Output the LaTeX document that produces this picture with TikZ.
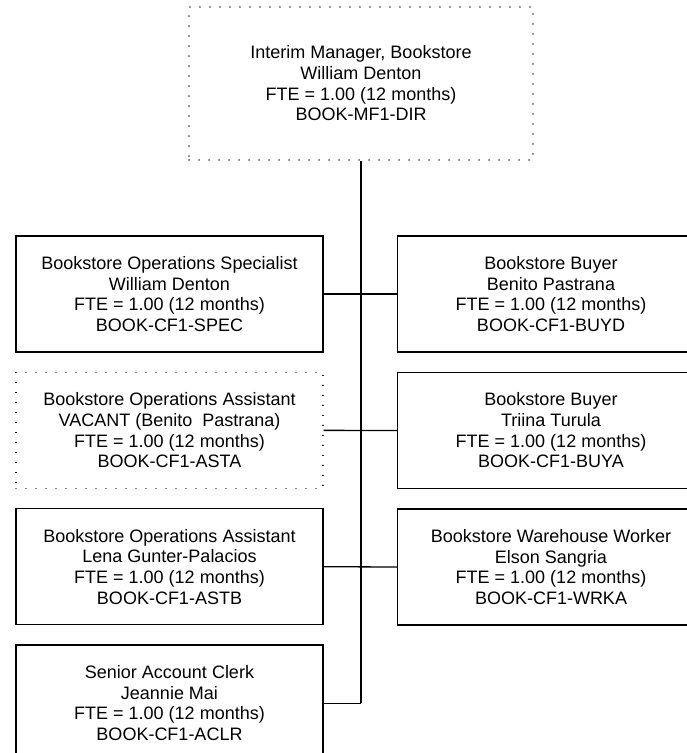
\documentclass[tikz,border=0pt]{standalone}
\usepackage{fontspec}
\setmainfont{Liberation Sans}
\usetikzlibrary{positioning}
\definecolor{orgLine}{HTML}{000000}
\tikzset{
  orgnode/.style={
    draw=orgLine, line width=1.5pt, minimum width=307pt, minimum height=116pt,
    inner sep=0pt, align=center, font=\fontsize{18}{20.7}\selectfont
  },
  vacant/.style={orgnode, line width=1.2pt, line cap=round, dash pattern=on 0.1pt off 9.9pt},
  headnode/.style={vacant, minimum width=344pt, minimum height=153pt},
  trunk/.style={draw=orgLine, line width=2.2pt},
  branch/.style={draw=orgLine, line width=1.3pt}
}
\begin{document}
\begin{tikzpicture}[x=1pt, y=1pt, node distance=19pt and 73pt]
  \useasboundingbox (0,0) rectangle (687,-753);
  \fill[white] (0,0) rectangle (687,-753);
  \clip (0,0) rectangle (687,-753);
  % head of unit
  \node[headnode] (head) at (361,-83.5)
    {Interim Manager, Bookstore\\William Denton\\FTE = 1.00 (12 months)\\BOOK-MF1-DIR};
  % left column
  \node[orgnode] (spec) at (169.5,-294)
    {Bookstore Operations Specialist\\William Denton\\FTE = 1.00 (12 months)\\BOOK-CF1-SPEC};
  \node[vacant, below=of spec] (asta)
    {Bookstore Operations Assistant\\VACANT (Benito~ Pastrana)\\FTE = 1.00 (12 months)\\BOOK-CF1-ASTA};
  \node[orgnode, below=of asta] (astb)
    {Bookstore Operations Assistant\\Lena Gunter-Palacios\\FTE = 1.00 (12 months)\\BOOK-CF1-ASTB};
  \node[orgnode, below=of astb] (aclr)
    {Senior Account Clerk\\Jeannie Mai\\FTE = 1.00 (12 months)\\BOOK-CF1-ACLR};
  % right column
  \node[orgnode, right=of spec] (buyd)
    {Bookstore Buyer\\Benito Pastrana\\FTE = 1.00 (12 months)\\BOOK-CF1-BUYD};
  \node[orgnode, below=of buyd] (buya)
    {Bookstore Buyer\\Triina Turula\\FTE = 1.00 (12 months)\\BOOK-CF1-BUYA};
  \node[orgnode, below=of buya] (wrka)
    {Bookstore Warehouse Worker\\Elson Sangria\\FTE = 1.00 (12 months)\\BOOK-CF1-WRKA};
  % connectors
  \coordinate (trunkend) at (head.south |- aclr.east);
  \draw[branch] (spec.east) -- (buyd.west);
  \draw[branch] (asta.east) -- (buya.west);
  \draw[branch] (astb.east) -- (wrka.west);
  \draw[branch] (aclr.east) -- (trunkend);
  \draw[trunk] (head.south) -- (trunkend);
\end{tikzpicture}
\end{document}
